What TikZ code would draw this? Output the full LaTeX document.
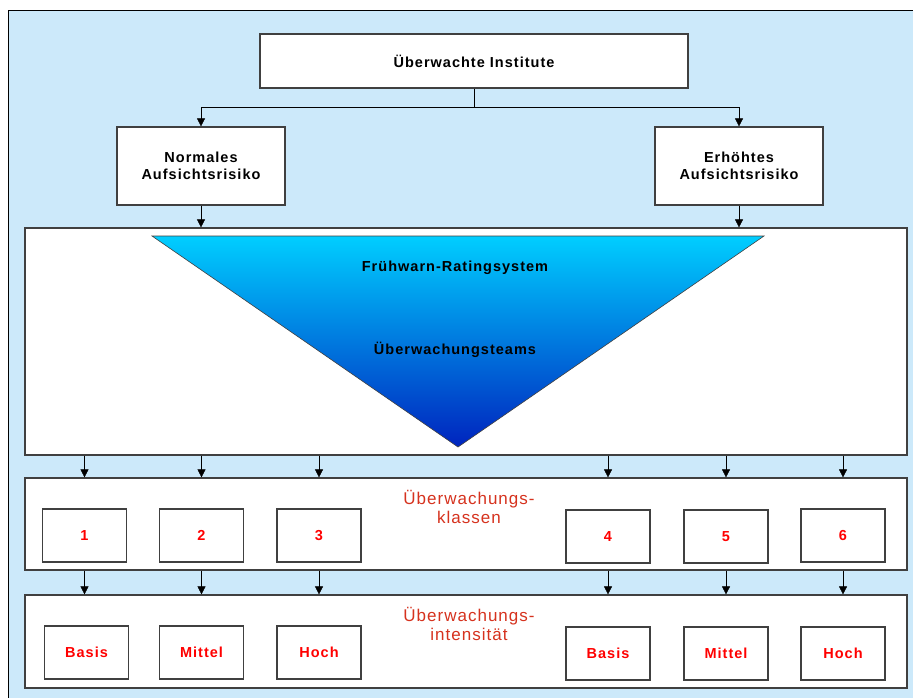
\documentclass[tikz,border=0pt]{standalone}
\usepackage{fontspec}
\setmainfont{Liberation Sans}
\newfontfamily\spacedfont[LetterSpace=7]{Liberation Sans}
\newfontfamily\titlefont[LetterSpace=6]{Liberation Sans}
\usetikzlibrary{arrows.meta}
\definecolor{bgblue}{RGB}{204,233,250}
\definecolor{titlered}{RGB}{214,50,30}
\definecolor{boxline}{RGB}{64,64,64}
\definecolor{tritop}{RGB}{0,206,255}
\definecolor{tribottom}{RGB}{0,36,190}
\begin{document}
\begin{tikzpicture}[
    x=1pt, y=-1pt,
    flow/.style={rectangle, draw=boxline, fill=white, line width=1.2pt, text centered, align=center, font=\spacedfont\bfseries\fontsize{14.5}{17}\selectfont},
    wide/.style={rectangle, draw=boxline, fill=white, line width=1.2pt, minimum width=882pt},
    klasse/.style={flow, minimum width=84pt, minimum height=53pt, text=red},
    title/.style={align=center, text=titlered, font=\titlefont\fontsize{17}{19.5}\selectfont},
    tritext/.style={font=\spacedfont\bfseries\fontsize{14.5}{17}\selectfont},
    >={Triangle[length=8pt,width=8pt]}
  ]
    \useasboundingbox (0,0) rectangle (913,697);
    \fill[bgblue] (8,10) rectangle (925,710);
    \draw[black, line width=1pt] (8,710) -- (8,10) -- (925,10);

    \node[flow, minimum width=428pt, minimum height=54pt] (inst) at (474,61) {Überwachte Institute};
    \node[flow, minimum width=168pt, minimum height=78pt] (norm) at (201,166) {Normales\\Aufsichtsrisiko};
    \node[flow, minimum width=168pt, minimum height=78pt] (erh) at (739,166) {Erhöhtes\\Aufsichtsrisiko};

    \node[wide, minimum height=227pt] (rating) at (466,341.5) {};
    \shade[top color=tritop, bottom color=tribottom, draw=boxline, line width=0.6pt] (152,236) -- (764,236) -- (458,447) -- cycle;
    \node[tritext] (fruehwarn) at (455,268) {Frühwarn-Ratingsystem};
    \node[tritext] (teams) at (455,350) {Überwachungsteams};

    \node[wide, minimum height=92pt] (klassen) at (466,524) {};
    \node[title] (klassentitel) at (469,507) {Überwachungs-\\klassen};
    \node[klasse] (k1) at (84.5,535.5) {1};
    \node[klasse] (k2) at (201.5,535.5) {2};
    \node[klasse] (k3) at (319,535.5) {3};
    \node[klasse] (k4) at (608,536.5) {4};
    \node[klasse] (k5) at (726,536.5) {5};
    \node[klasse] (k6) at (843,535.5) {6};

    \node[wide, minimum height=93pt] (intens) at (466,641.5) {};
    \node[title] (intenstitel) at (469,624) {Überwachungs-\\intensität};
    \node[klasse] (i1) at (86.5,652.5) {Basis};
    \node[klasse] (i2) at (201.5,652.5) {Mittel};
    \node[klasse] (i3) at (319,652.5) {Hoch};
    \node[klasse] (i4) at (608,653.5) {Basis};
    \node[klasse] (i5) at (726,653.5) {Mittel};
    \node[klasse] (i6) at (843,653.5) {Hoch};

    \draw[->] (inst.south) -- ++(0,19) -| (norm.north);
    \draw[->] (inst.south) -- ++(0,19) -| (erh.north);
    \draw[->] (norm) -- (norm |- rating.north);
    \draw[->] (erh) -- (erh |- rating.north);

    \draw[->] (k1 |- rating.south) -- (k1 |- klassen.north);
    \draw[->] (k2 |- rating.south) -- (k2 |- klassen.north);
    \draw[->] (k3 |- rating.south) -- (k3 |- klassen.north);
    \draw[->] (k4 |- rating.south) -- (k4 |- klassen.north);
    \draw[->] (k5 |- rating.south) -- (k5 |- klassen.north);
    \draw[->] (k6 |- rating.south) -- (k6 |- klassen.north);

    \draw[->] (k1 |- klassen.south) -- (k1 |- intens.north);
    \draw[->] (k2 |- klassen.south) -- (k2 |- intens.north);
    \draw[->] (k3 |- klassen.south) -- (k3 |- intens.north);
    \draw[->] (k4 |- klassen.south) -- (k4 |- intens.north);
    \draw[->] (k5 |- klassen.south) -- (k5 |- intens.north);
    \draw[->] (k6 |- klassen.south) -- (k6 |- intens.north);

  \end{tikzpicture}
\end{document}
